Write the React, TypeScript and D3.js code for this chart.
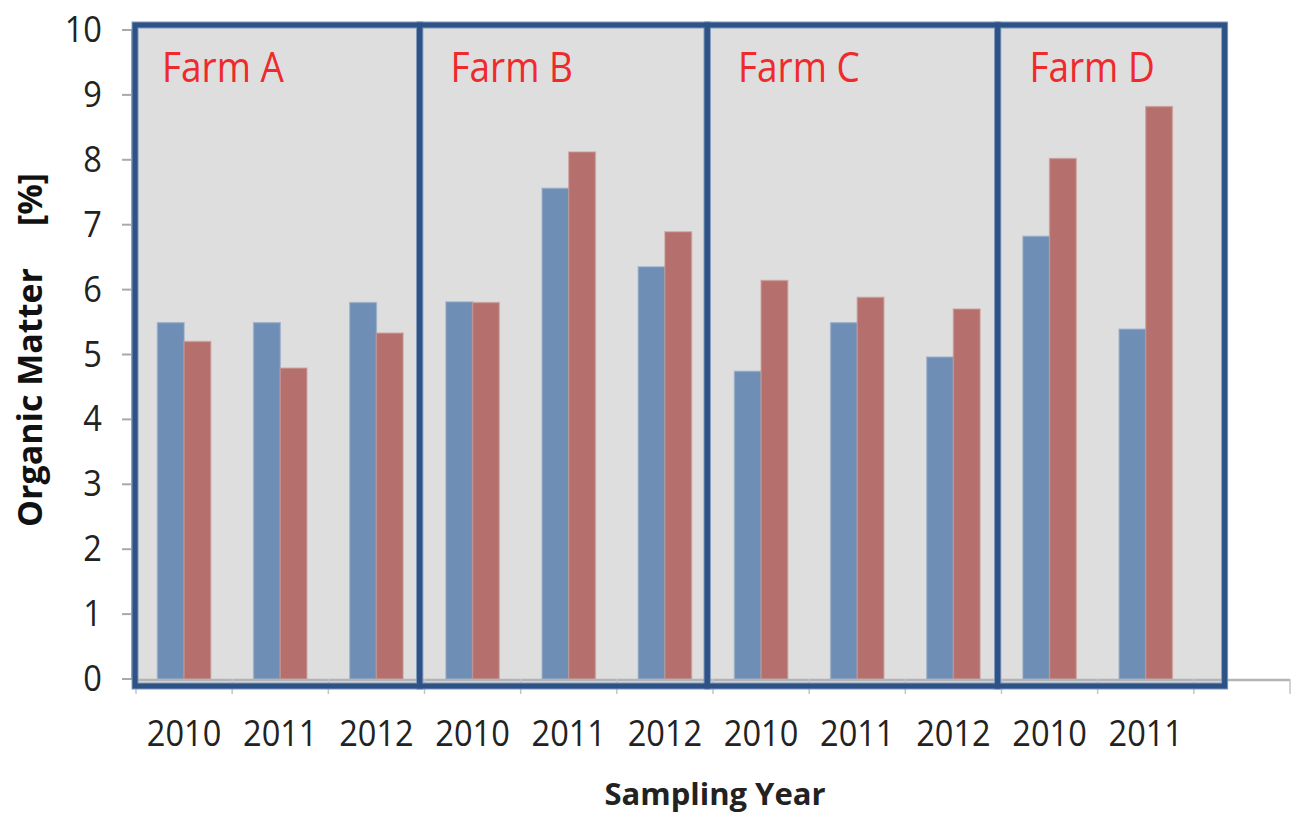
import React from 'react';
import * as d3 from 'd3';

const categories = ['2010', '2011', '2012', '2010', '2011', '2012', '2010', '2011', '2012', '2010', '2011', ''];
const blueValues: (number | null)[] = [5.49, 5.49, 5.8, 5.81, 7.56, 6.35, 4.74, 5.49, 4.96, 6.82, 5.39, null];
const redValues: (number | null)[] = [5.2, 4.79, 5.33, 5.8, 8.12, 6.89, 6.14, 5.88, 5.7, 8.02, 8.82, null];
const farms = ['Farm A', 'Farm B', 'Farm C', 'Farm D'];
const farmEdges = [-0.01, 2.95, 5.94, 8.96, 11.32];
const farmLabelStart = [0.27, 3.27, 6.26, 9.29];
const yTicks = [0, 1, 2, 3, 4, 5, 6, 7, 8, 9, 10];

const W = 1292;
const H = 815;
const X0 = 136;
const X1 = 1290;
const Y0 = 679;
const Y1 = 30;

const BLUE = '#6F8EB5';
const RED = '#B56F6C';

export default function App() {
  const ids = categories.map((_, i) => String(i));
  const xBand = d3.scaleBand<string>().domain(ids).range([X0, X1]).padding(0);
  const xSlot = d3.scaleLinear().domain([0, categories.length]).range([X0, X1]);
  const y = d3.scaleLinear().domain([0, 10]).range([Y0, Y1]);
  const bw = xBand.bandwidth() * 0.277;

  const panelTop = y(10.077);
  const panelBottom = y(-0.108);

  return (
    <svg
      width={W}
      height={H}
      style={{ position: 'absolute', left: 0, top: 0, background: '#fff' }}
      fontFamily="'Open Sans', sans-serif"
    >
      {/* panel fills */}
      {farms.map((f, i) => (
        <rect
          key={'pf' + f}
          x={xSlot(farmEdges[i])}
          y={panelTop}
          width={xSlot(farmEdges[i + 1]) - xSlot(farmEdges[i])}
          height={panelBottom - panelTop}
          fill="#DEDEDE"
        />
      ))}

      {/* y ticks */}
      {yTicks.map((t) => (
        <line key={'yt' + t} x1={122} x2={133} y1={y(t)} y2={y(t)} stroke="#A9A9A9" strokeWidth={2} />
      ))}
      <line x1={132} x2={132} y1={y(10)} y2={y(0)} stroke="#A9A9A9" strokeWidth={2} />

      {/* bars */}
      {ids.map((id, i) => {
        const cx = (xBand(id) as number) + xBand.bandwidth() / 2;
        const b = blueValues[i];
        const r = redValues[i];
        return (
          <g key={'bar' + id}>
            {b != null && (
              <rect
                x={cx - bw}
                y={y(b)}
                width={bw}
                height={y(0) - y(b)}
                fill={BLUE}
                stroke="#8FA8C7"
                strokeOpacity={0.6}
                strokeWidth={1.5}
              />
            )}
            {r != null && (
              <rect
                x={cx}
                y={y(r)}
                width={bw}
                height={y(0) - y(r)}
                fill={RED}
                stroke="#C99795"
                strokeOpacity={0.6}
                strokeWidth={1.5}
              />
            )}
          </g>
        );
      })}

      {/* x axis line and ticks */}
      <line x1={X0 - 4} x2={X1} y1={y(0) + 1} y2={y(0) + 1} stroke="#B3B3B3" strokeWidth={2.5} />
      {d3.range(categories.length + 1).map((i) => (
        <line
          key={'xt' + i}
          x1={xSlot(i)}
          x2={xSlot(i)}
          y1={y(0)}
          y2={y(0) + 15}
          stroke="#C4C4C4"
          strokeWidth={1.5}
        />
      ))}

      {/* panel borders */}
      {farms.map((f, i) => (
        <rect
          key={'pb' + f}
          x={xSlot(farmEdges[i])}
          y={panelTop}
          width={xSlot(farmEdges[i + 1]) - xSlot(farmEdges[i])}
          height={panelBottom - panelTop}
          fill="none"
          stroke="#8098BA"
          strokeWidth={7}
        />
      ))}
      {farms.map((f, i) => (
        <rect
          key={'pc' + f}
          x={xSlot(farmEdges[i])}
          y={panelTop}
          width={xSlot(farmEdges[i + 1]) - xSlot(farmEdges[i])}
          height={panelBottom - panelTop}
          fill="none"
          stroke="#2C5286"
          strokeWidth={5}
        />
      ))}

      {/* farm labels */}
      {farms.map((f, i) => (
        <g key={'fl' + f} transform={`translate(${xSlot(farmLabelStart[i])},${y(10) + 52}) scale(0.88,1)`}>
          <text x={0} y={0} fontSize={42} fill="#EE2A2C">
            {f}
          </text>
        </g>
      ))}

      {/* y tick labels */}
      {yTicks.map((t) => (
        <g key={'yl' + t} transform={`translate(102,${y(t) + 12}) scale(0.88,1)`}>
          <text x={0} y={0} fontSize={37} fill="#222" textAnchor="end">
            {t}
          </text>
        </g>
      ))}

      {/* x tick labels */}
      {ids.map((id, i) => (
        <g
          key={'xl' + id}
          transform={`translate(${(xBand(id) as number) + xBand.bandwidth() / 2},746) scale(0.88,1)`}
        >
          <text x={0} y={0} fontSize={37} fill="#222" textAnchor="middle">
            {categories[i]}
          </text>
        </g>
      ))}

      {/* axis titles */}
      <text
        transform="translate(42,527) rotate(-90)"
        fontSize={34}
        fontWeight="bold"
        fill="#111"
      >
        <tspan>Organic Matter</tspan>
        <tspan dx={42}>[%]</tspan>
      </text>
      <text x={715} y={805} fontSize={31} fontWeight="bold" fill="#222" textAnchor="middle">
        Sampling Year
      </text>
    </svg>
  );
}
